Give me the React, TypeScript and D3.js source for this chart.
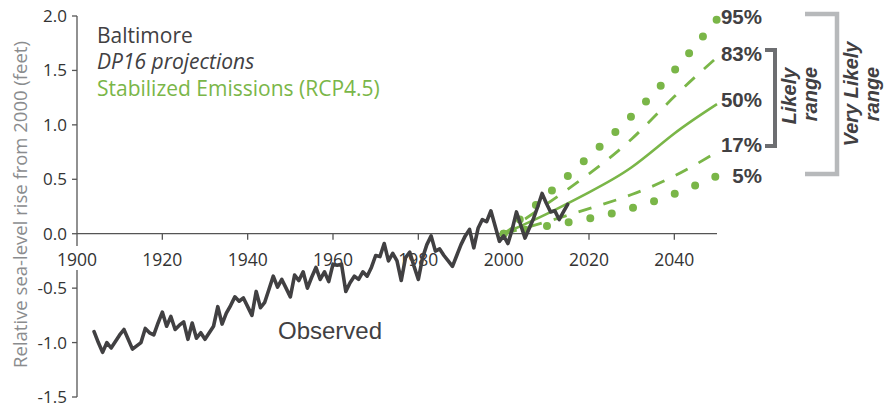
import * as d3 from "d3";

const WIDTH = 895;
const HEIGHT = 406;

// observed annual relative sea level, Baltimore (feet, relative to 2000)
const obsStart = 1904;
const observed = [
  -0.9, -1.0, -1.09, -1.0, -1.05, -0.99, -0.93, -0.88, -0.97, -1.06,
  -1.03, -1.0, -0.87, -0.91, -0.93, -0.82, -0.72, -0.85, -0.76, -0.88,
  -0.84, -0.81, -0.97, -0.82, -0.96, -0.91, -0.97, -0.91, -0.85, -0.67,
  -0.83, -0.73, -0.66, -0.58, -0.62, -0.59, -0.67, -0.75, -0.53, -0.68,
  -0.63, -0.51, -0.39, -0.49, -0.42, -0.5, -0.58, -0.38, -0.43, -0.35,
  -0.5, -0.4, -0.31, -0.42, -0.35, -0.44, -0.28, -0.29, -0.28, -0.53,
  -0.45, -0.39, -0.42, -0.35, -0.39, -0.31, -0.2, -0.21, -0.09, -0.25,
  -0.18, -0.25, -0.43, -0.22, -0.17, -0.3, -0.42, -0.22, -0.1, -0.02,
  -0.16, -0.14, -0.2, -0.25, -0.3, -0.2, -0.1, -0.02, 0.04, -0.13,
  0.05, 0.13, 0.11, 0.21, 0.07, -0.07, -0.02, -0.09, 0.04, 0.2,
  0.08, -0.04, 0.05, 0.14, 0.25, 0.37, 0.28, 0.2, 0.21, 0.13,
  0.2, 0.27,
];

// DP16 projections, RCP4.5
const projYears = [2000, 2010, 2020, 2030, 2040, 2050];
const p95 = [0, 0.35, 0.71, 1.08, 1.5, 1.97];
const p83 = [0, 0.27, 0.55, 0.87, 1.26, 1.62];
const p50 = [0, 0.18, 0.38, 0.61, 0.92, 1.19];
const p17 = [0, 0.11, 0.23, 0.36, 0.53, 0.75];
const p05 = [0, 0.07, 0.14, 0.235, 0.365, 0.53];

const pctLabels = ["95%", "83%", "50%", "17%", "5%"];
const pctBaselines = [24, 60.7, 107.3, 151.7, 183.3];

const xTicks = [1900, 1920, 1940, 1960, 1980, 2000, 2020, 2040];
const yTicks = [2.0, 1.5, 1.0, 0.5, 0.0, -0.5, -1.0, -1.5];

const GREEN = "#7ab648";
const DARK = "#414042";
const FONT = "'Open Sans', 'Noto Sans', sans-serif";
const BOLD = "'Liberation Sans', Arial, sans-serif";

export default function App() {
  const x = d3.scaleLinear().domain([1900, 2050]).range([77, 717]);
  const y = d3.scaleLinear().domain([-1.5, 2.0]).range([397, 16]);

  const obsLine = d3
    .line<number>()
    .x((_, i) => x(obsStart + i))
    .y((v) => y(v))
    .curve(d3.curveLinear);

  const projLine = d3
    .line<number>()
    .x((_, i) => x(projYears[i]))
    .y((v) => y(v))
    .curve(d3.curveNatural);

  return (
    <svg
      width={WIDTH}
      height={HEIGHT}
      style={{ position: "absolute", left: 0, top: 0, background: "#fff" }}
    >
      {/* y axis */}
      <line x1={x(1900)} x2={x(1900)} y1={y(2)} y2={y(-1.5)} stroke="#555" strokeWidth={1.3} />
      {yTicks.map((t) => (
        <g key={t}>
          <line x1={x(1900) - 5} x2={x(1900)} y1={y(t)} y2={y(t)} stroke="#555" strokeWidth={1.3} />
          <text
            x={67}
            y={y(t) + 6}
            textAnchor="end"
            fontFamily={FONT}
            fontSize={17}
            fill="#333"
          >
            {d3.format(".1f")(t).replace("−", "-")}
          </text>
        </g>
      ))}
      <text
        transform={`translate(27,204.5) rotate(-90)`}
        textAnchor="middle"
        fontFamily={FONT}
        fontSize={18.5}
        fill="#8a8c8e"
      >
        Relative sea-level rise from 2000 (feet)
      </text>

      {/* x axis */}
      <line x1={x(1900)} x2={x(2050)} y1={y(0)} y2={y(0)} stroke="#555" strokeWidth={1.3} />
      {xTicks.map((t) => (
        <g key={t}>
          {t > 1900 ? (
            <line x1={x(t)} x2={x(t)} y1={y(0)} y2={y(0) + 6} stroke="#555" strokeWidth={1.3} />
          ) : null}
          <rect x={x(t) - 22} y={246} width={44} height={24} fill="#fff" />
          <text
            x={x(t)}
            y={266}
            textAnchor="middle"
            fontFamily={FONT}
            fontSize={17.5}
            fill="#333"
          >
            {t}
          </text>
        </g>
      ))}

      {/* titles */}
      <text x={97} y={43} fontFamily={FONT} fontSize={21} fill={DARK}>
        Baltimore
      </text>
      <text x={97} y={69} fontFamily={FONT} fontSize={21} fontStyle="italic" fill={DARK}>
        DP16 projections
      </text>
      <text x={97} y={96} fontFamily={FONT} fontSize={21} fill={GREEN}>
        Stabilized Emissions (RCP4.5)
      </text>

      {/* projections */}
      <path d={projLine(p50) ?? ""} fill="none" stroke={GREEN} strokeWidth={2.6} />
      <path
        d={projLine(p83) ?? ""}
        fill="none"
        stroke={GREEN}
        strokeWidth={2.8}
        strokeDasharray="13.5 12.5"
      />
      <path
        d={projLine(p17) ?? ""}
        fill="none"
        stroke={GREEN}
        strokeWidth={2.8}
        strokeDasharray="13.5 12.5"
      />
      <path
        d={projLine(p95) ?? ""}
        fill="none"
        stroke={GREEN}
        strokeWidth={8}
        strokeLinecap="round"
        strokeDasharray="0 21.6"
      />
      <path
        d={projLine(p05) ?? ""}
        fill="none"
        stroke={GREEN}
        strokeWidth={8}
        strokeLinecap="round"
        strokeDasharray="0 22"
      />

      {/* observed */}
      <path
        d={obsLine(observed) ?? ""}
        fill="none"
        stroke={DARK}
        strokeWidth={3.6}
        strokeLinejoin="round"
        strokeLinecap="round"
      />
      <text x={278} y={339} fontFamily={BOLD} fontSize={24} fill={DARK}>
        Observed
      </text>

      {/* percentile labels */}
      {pctLabels.map((l, i) => (
        <text
          key={l}
          x={762}
          y={pctBaselines[i]}
          textAnchor="end"
          fontFamily={BOLD}
          fontWeight="bold"
          fontSize={20.5}
          fill={DARK}
        >
          {l}
        </text>
      ))}

      {/* brackets */}
      <path d="M765,50 H775 V146 H765" fill="none" stroke="#6d6e71" strokeWidth={4} />
      <path d="M805,14 H837 V174 H805" fill="none" stroke="#b7b9bb" strokeWidth={4.5} />
      <g fontFamily={BOLD} fontWeight="bold" fontStyle="italic" fontSize={20} fill={DARK} textAnchor="middle">
        <text transform="translate(796,96) rotate(-90)">Likely</text>
        <text transform="translate(817,94) rotate(-90)">range</text>
        <text transform="translate(858,94) rotate(-90)">Very Likely</text>
        <text transform="translate(879,94) rotate(-90)">range</text>
      </g>
    </svg>
  );
}
